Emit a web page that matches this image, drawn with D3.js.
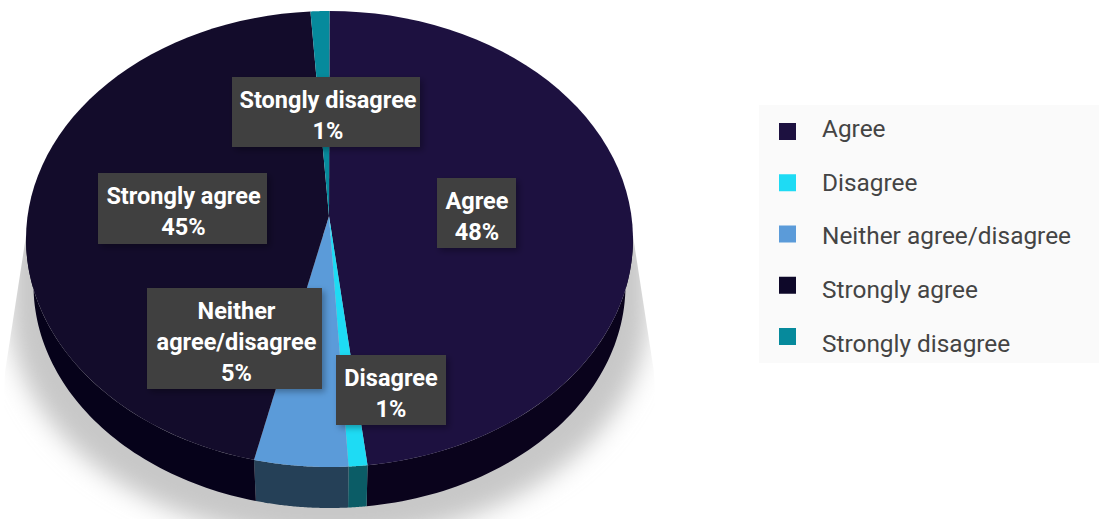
<!DOCTYPE html>
<html>
<head>
<meta charset="utf-8">
<script src="https://cdn.jsdelivr.net/npm/d3@7/dist/d3.min.js"></script>
<style>
html,body{margin:0;padding:0;background:#fff;overflow:hidden}
svg{display:block}
</style>
</head>
<body>
<svg id="chart" width="1099" height="519"></svg>
<script>
// Survey responses
const categories = ["Agree", "Disagree", "Neither agree/disagree", "Strongly agree", "Strongly disagree"];
const shares = [48, 1, 5, 45, 1];
const calloutNames = ["Agree", "Disagree", "Neither\nagree/disagree", "Strongly agree", "Stongly disagree"];

const topColors = ["#1d1140", "#1edbf4", "#5b9bd9", "#130c2b", "#068a9c"];
const wallColors = ["#0a031c", "#0b5c66", "#254057", "#06021a", "#04434c"];
const legendColors = ["#1d1140", "#1edbf4", "#5b9bd9", "#0e0829", "#068a9c"];

// Callout rectangles, in the same order as the categories: [left, top, right, bottom]
const calloutBoxes = [
  [437, 178, 516, 248],
  [336, 355, 446, 425],
  [147, 288, 322, 389],
  [98, 173, 267, 244],
  [232, 77, 420, 147]
];
const calloutTextShift = [0.5, 0, 2, 1, 2];

const svg = d3.select("#chart");
const defs = svg.append("defs");

defs.append("filter").attr("id", "softShadow")
  .attr("x", "-10%").attr("y", "-10%").attr("width", "120%").attr("height", "120%")
  .append("feGaussianBlur").attr("stdDeviation", 12);

const calloutShadow = defs.append("filter").attr("id", "calloutShadow")
  .attr("x", "-20%").attr("y", "-20%").attr("width", "140%").attr("height", "140%");
calloutShadow.append("feDropShadow")
  .attr("dx", 3).attr("dy", 3).attr("stdDeviation", 3)
  .attr("flood-color", "#000").attr("flood-opacity", 0.3);

// The pie is tilted: the rim is an ellipse, the apex sits above its centre,
// and the lower rim of the wall is a slightly smaller ellipse.
const apex = [329, 216];
const topRimX = d3.scaleLinear().domain([-1, 1]).range([26, 633]);
const topRimY = d3.scaleLinear().domain([-1, 1]).range([11, 467]);
const lowRimX = d3.scaleLinear().domain([-1, 1]).range([33.5, 625.5]);
const lowRimY = d3.scaleLinear().domain([-1, 1]).range([62, 508]);

const topRim = a => [topRimX(Math.sin(a)), topRimY(-Math.cos(a))];
const lowRim = a => [lowRimX(Math.sin(a)), lowRimY(-Math.cos(a))];
const sweep = (a, b) => d3.range(0, 61).map(i => a + (b - a) * i / 60);
const line = d3.line().curve(d3.curveLinear);

const arcs = d3.pie().sort(null).value(d => d)(shares);

// Ground shadow: a blurred ellipse with a band above it, trimmed to a wedge on each side
defs.append("clipPath").attr("id", "shadowClip")
  .append("path")
  .attr("d", "M26,236 L5,372 L0,519 L659,519 L654,372 L633,236 Z");

const shadow = svg.append("g").attr("clip-path", "url(#shadowClip)")
  .append("g").attr("filter", "url(#softShadow)");
shadow.append("ellipse")
  .attr("cx", 329).attr("cy", 308)
  .attr("rx", 320).attr("ry", 232)
  .attr("fill", "#c8c8c8");
shadow.append("rect")
  .attr("x", 9).attr("y", 200)
  .attr("width", 640).attr("height", 108)
  .attr("fill", "#c8c8c8");

// Wall of the pie, only the part facing the viewer
const wallOf = d => {
  const a = Math.max(d.startAngle, Math.PI / 2 - 0.02);
  const b = Math.min(d.endAngle, Math.PI * 1.5 + 0.02);
  if (a >= b) return null;
  const s = sweep(a, b);
  return line(s.map(topRim).concat(s.slice().reverse().map(lowRim))) + "Z";
};

svg.append("g").selectAll("path").data(arcs).join("path")
  .attr("d", wallOf)
  .attr("fill", (d, i) => wallColors[i]);

// Top face
svg.append("g").selectAll("path").data(arcs).join("path")
  .attr("d", d => line([apex].concat(sweep(d.startAngle, d.endAngle).map(topRim))) + "Z")
  .attr("fill", (d, i) => topColors[i]);

// Callouts
const font = "Roboto, sans-serif";
const callouts = svg.append("g").selectAll("g").data(categories).join("g");

callouts.append("rect")
  .attr("x", (d, i) => calloutBoxes[i][0])
  .attr("y", (d, i) => calloutBoxes[i][1])
  .attr("width", (d, i) => calloutBoxes[i][2] - calloutBoxes[i][0])
  .attr("height", (d, i) => calloutBoxes[i][3] - calloutBoxes[i][1])
  .attr("fill", "#404040")
  .attr("filter", "url(#calloutShadow)");

callouts.each(function (d, i) {
  const lines = calloutNames[i].split("\n").concat(shares[i] + "%");
  const box = calloutBoxes[i];
  const cx = (box[0] + box[2]) / 2 + calloutTextShift[i];
  const midY = (box[1] + box[3]) / 2;
  d3.select(this).selectAll("text").data(lines).join("text")
    .attr("x", cx)
    .attr("y", (t, j) => midY + 11 + (j - (lines.length - 1) / 2) * 31)
    .attr("text-anchor", "middle")
    .attr("font-family", font)
    .attr("font-weight", 700)
    .attr("font-size", 23.5)
    .attr("fill", "#fff")
    .text(t => t);
});

// Legend: swatches and captions sit on slightly different row spacings
const swatchY = d3.scalePoint().domain(categories).range([131.5, 336.5]);
const captionY = d3.scalePoint().domain(categories).range([136.7, 352]);
const legend = svg.append("g");
legend.append("rect")
  .attr("x", 759).attr("y", 105).attr("width", 340).attr("height", 258)
  .attr("fill", "#fafafa");

legend.selectAll("rect.swatch").data(categories).join("rect")
  .attr("class", "swatch")
  .attr("x", 779).attr("y", d => swatchY(d) - 8.5)
  .attr("width", 17).attr("height", 17)
  .attr("fill", (d, i) => legendColors[i]);
legend.selectAll("text").data(categories).join("text")
  .attr("x", 822).attr("y", d => captionY(d))
  .attr("font-family", font)
  .attr("font-size", 24.4)
  .attr("fill", "#444")
  .text(d => d);
</script>
</body>
</html>
